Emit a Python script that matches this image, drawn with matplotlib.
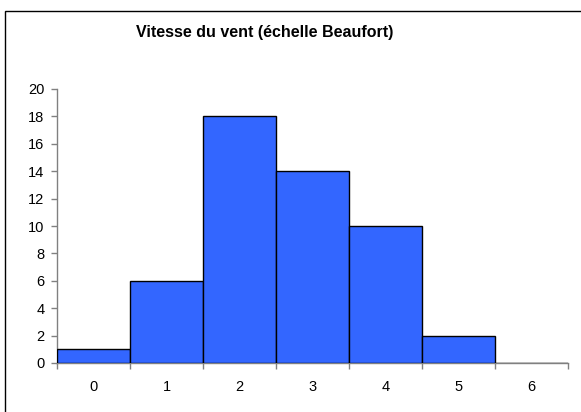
import matplotlib
matplotlib.use("Agg")
import matplotlib.pyplot as plt
from matplotlib.patches import Rectangle

# wind speed counts per Beaufort level
beaufort = [0, 1, 2, 3, 4, 5, 6]
counts = [1, 6, 18, 14, 10, 2, 0]
yticks = list(range(0, 21, 2))

plt.rcParams['font.family'] = ['Liberation Sans', 'DejaVu Sans']

W, H = 581, 412
fig = plt.figure(figsize=(W / 100, H / 100), dpi=100)

# outer chart frame (only left and top edges fall inside the picture)
fig.patches.append(Rectangle((5 / W, 0 - 0.1), 1.1, (H - 11) / H + 0.1,
                             transform=fig.transFigure, fill=False,
                             edgecolor='black', linewidth=1.0))

ax = fig.add_axes([57 / W, 49 / H, (568 - 57) / W, (363 - 89) / H])

ax.bar(beaufort, counts, width=1.0, align='center', color='#3366FF',
       edgecolor='black', linewidth=1.0, zorder=3)

ax.set_xlim(-0.5, 6.5)
ax.set_ylim(0, 20)
ax.set_yticks(yticks)
ax.set_yticklabels([str(v) for v in yticks], fontsize=10.5)

# labels centred under each category, tick marks at the boundaries
ax.set_xticks([b - 0.5 for b in beaufort] + [6.5])
ax.set_xticklabels([])
ax.set_xticks(beaufort, minor=True)
ax.set_xticklabels([str(b) for b in beaufort], minor=True, fontsize=10.5)
ax.tick_params(axis='x', which='minor', length=0, pad=12)
ax.tick_params(axis='x', which='major', length=4, color='#808080', width=1)
ax.tick_params(axis='y', length=4, color='#808080', width=1, pad=5)

for side in ['top', 'right']:
    ax.spines[side].set_visible(False)
for side in ['left', 'bottom']:
    ax.spines[side].set_color('#808080')
    ax.spines[side].set_linewidth(1.0)

fig.text(265 / W, 1 - 33 / H, 'Vitesse du vent (échelle Beaufort)',
         ha='center', va='center', fontsize=11.5, fontweight='bold')

fig.savefig('out.png', dpi=100)
